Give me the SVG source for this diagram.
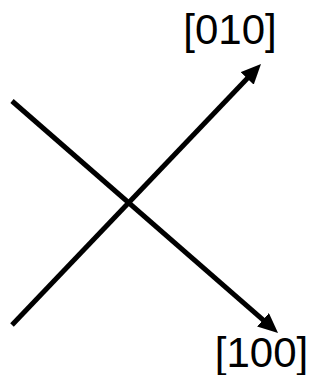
<svg xmlns="http://www.w3.org/2000/svg" width="321" height="375" viewBox="0 0 321 375">
<style>
.ln{stroke:#000;stroke-width:5;fill:none}
.lb{font-family:"Liberation Sans",Arial,sans-serif;font-size:42px;fill:#000;text-anchor:middle}
</style>
<defs>
<marker id="ah" markerUnits="userSpaceOnUse" viewBox="0 0 20 18" markerWidth="20" markerHeight="18" refX="10" refY="9" orient="auto">
<path d="M0,0 L20,9 L0,18 z" fill="#000"/>
</marker>
</defs>
<g id="connectors">
<line class="ln" x1="12" y1="101" x2="270.5" y2="326.4" marker-end="url(#ah)"/>
<line class="ln" x1="12" y1="325" x2="254.1" y2="71.2" marker-end="url(#ah)"/>
</g>
<g id="label010"><text class="lb" x="230" y="44">[010]</text></g>
<g id="label100"><text class="lb" x="261.5" y="367">[100]</text></g>
</svg>
